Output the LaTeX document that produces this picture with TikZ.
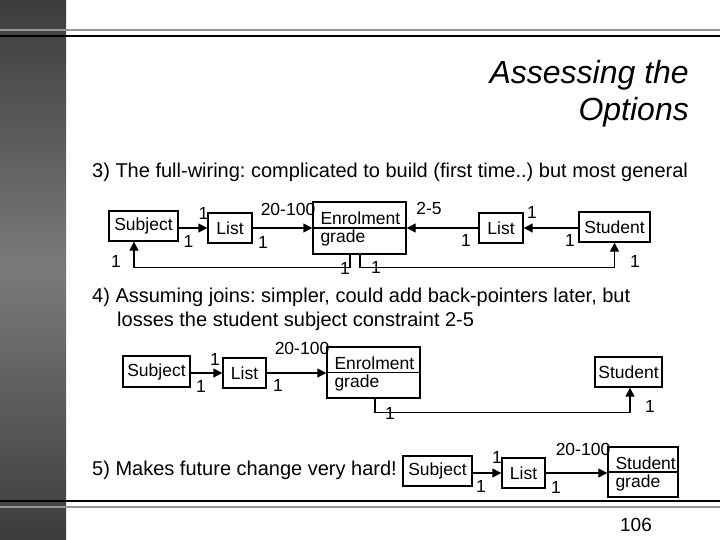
\documentclass[tikz,border=0pt]{standalone}
\usepackage{fontspec}
\setmainfont{Liberation Sans}
\usetikzlibrary{arrows.meta}
\frenchspacing
\definecolor{bardark}{RGB}{60,60,60}
\definecolor{barlight}{RGB}{122,122,122}
\definecolor{rulegray}{RGB}{150,150,150}
\tikzset{
  slide rule/.style={line width=2pt},
  entity box/.style={draw=black,line width=1.4pt,inner sep=0pt,font=\fontsize{17.5}{20}\selectfont},
  entity text/.style={font=\fontsize{17.5}{20}\selectfont,inner sep=0pt,anchor=base west},
  card/.style={font=\fontsize{17.5}{20}\selectfont,inner sep=0pt},
  link/.style={-{Triangle[length=9pt,width=9pt]},line width=1.4pt},
  wire/.style={line width=1.4pt},
  body text/.style={font=\fontsize{20}{24}\selectfont,inner sep=0pt,anchor=west},
  title text/.style={font=\fontsize{32}{37}\selectfont\itshape,inner sep=0pt,anchor=east}
}
\begin{document}
\begin{tikzpicture}[x=1pt,y=-1pt]
  \useasboundingbox (0,0) rectangle (720,540);
  \shade[top color=bardark,bottom color=bardark,middle color=barlight] (0,0) rectangle (66,540);
  \draw[slide rule,rulegray] (0,30) -- (720,30);
  \draw[slide rule] (0,36) -- (720,36);
  \draw[slide rule] (0,501) -- (720,501);
  \draw[slide rule,rulegray] (0,507) -- (720,507);

  \node[title text] (title1) at (689,75) {Assessing the};
  \node[title text] (title2) at (689,112) {Options};

  % 3) full wiring
  \node[body text] (item3) at (92,172) {3) The full-wiring: complicated to build (first time..) but most general};
  \node[entity box,minimum width=69pt,minimum height=30pt] (subj3) at (143.5,226) {Subject};
  \node[entity box,minimum width=44pt,minimum height=30pt] (list3) at (230,228) {List};
  \node[entity box,minimum width=93pt,minimum height=52pt] (enrol3) at (359.5,228) {};
  \draw[wire] (enrol3.west) -- (enrol3.east);
  \node[entity text] (enrol3a) at ([xshift=8pt,yshift=3pt]enrol3.west) {Enrolment};
  \node[entity text] (enrol3b) at ([xshift=8pt,yshift=-15pt]enrol3.west) {grade};
  \node[entity box,minimum width=44pt,minimum height=30pt] (listb3) at (501,228) {List};
  \node[entity box,minimum width=71pt,minimum height=30pt] (stud3) at (614.5,227) {Student};

  \draw[link] (subj3.east |- list3.west) -- (list3.west);
  \draw[link] (list3.east) -- (enrol3.west);
  \draw[link] (listb3.west) -- (enrol3.east);
  \draw[link] (stud3.west |- listb3.east) -- (listb3.east);
  \draw[link] ([xshift=-9.5pt]enrol3.south) -- ++(0,13) -| ([xshift=-9.5pt]subj3.south);
  \draw[link] ([xshift=0.5pt]enrol3.south) -- ++(0,13) -| (stud3.south);

  \node[card] (c3a) at (203.5,213) {1};
  \node[card] (c3b) at (188.5,241) {1};
  \node[card] (c3c) at (288,209) {20-100};
  \node[card] (c3d) at (263,242) {1};
  \node[card] (c3e) at (429,208) {2-5};
  \node[card] (c3f) at (466,240) {1};
  \node[card] (c3g) at (532,212) {1};
  \node[card] (c3h) at (570,240) {1};
  \node[card] (c3i) at (116,261) {1};
  \node[card] (c3j) at (345,268) {1};
  \node[card] (c3k) at (376,267) {1};
  \node[card] (c3l) at (635,261) {1};

  % 4) joins
  \node[body text] (item4a) at (92,297) {4) Assuming joins: simpler, could add back-pointers later, but};
  \node[body text] (item4b) at (117,321) {losses the student subject constraint 2-5};
  \node[entity box,minimum width=67pt,minimum height=31pt] (subj4) at (156.5,371.5) {Subject};
  \node[entity box,minimum width=43pt,minimum height=30pt] (list4) at (244.5,373) {List};
  \node[entity box,minimum width=93pt,minimum height=51pt] (enrol4) at (373.5,372.5) {};
  \draw[wire] (enrol4.west) -- (enrol4.east);
  \node[entity text] (enrol4a) at ([xshift=8pt,yshift=3pt]enrol4.west) {Enrolment};
  \node[entity text] (enrol4b) at ([xshift=8pt,yshift=-15pt]enrol4.west) {grade};
  \node[entity box,minimum width=67pt,minimum height=30pt] (stud4) at (628.5,372) {Student};

  \draw[link] (subj4.east |- list4.west) -- (list4.west);
  \draw[link] (list4.east) -- (list4.east -| enrol4.west);
  \draw[link] ([xshift=1.5pt]enrol4.south) -- ++(0,14) -| ([xshift=1.5pt]stud4.south);

  \node[card] (c4a) at (215,359) {1};
  \node[card] (c4b) at (201,386) {1};
  \node[card] (c4c) at (302,348) {20-100};
  \node[card] (c4d) at (278,385) {1};
  \node[card] (c4e) at (390,413) {1};
  \node[card] (c4f) at (650,406) {1};

  % 5) future change
  \node[body text] (item5) at (92,470) {5) Makes future change very hard!};
  \node[entity box,minimum width=69pt,minimum height=30pt] (subj5) at (437.5,471) {Subject};
  \node[entity box,minimum width=43pt,minimum height=30pt] (list5) at (523.5,473) {List};
  \node[entity box,minimum width=70pt,minimum height=50pt] (stud5) at (643,472) {};
  \draw[wire] (stud5.west) -- (stud5.east);
  \node[entity text] (stud5a) at ([xshift=8pt,yshift=3pt]stud5.west) {Student};
  \node[entity text] (stud5b) at ([xshift=8pt,yshift=-15pt]stud5.west) {grade};

  \draw[link] (subj5.east |- list5.west) -- (list5.west);
  \draw[link] (list5.east) -- (list5.east -| stud5.west);

  \node[card] (c5a) at (497,457) {1};
  \node[card] (c5b) at (481,486) {1};
  \node[card] (c5c) at (583,449) {20-100};
  \node[card] (c5d) at (556,487) {1};

  \node[body text,anchor=center,font=\fontsize{19}{22}\selectfont] (pageno) at (636,525) {106};
\end{tikzpicture}
\end{document}
